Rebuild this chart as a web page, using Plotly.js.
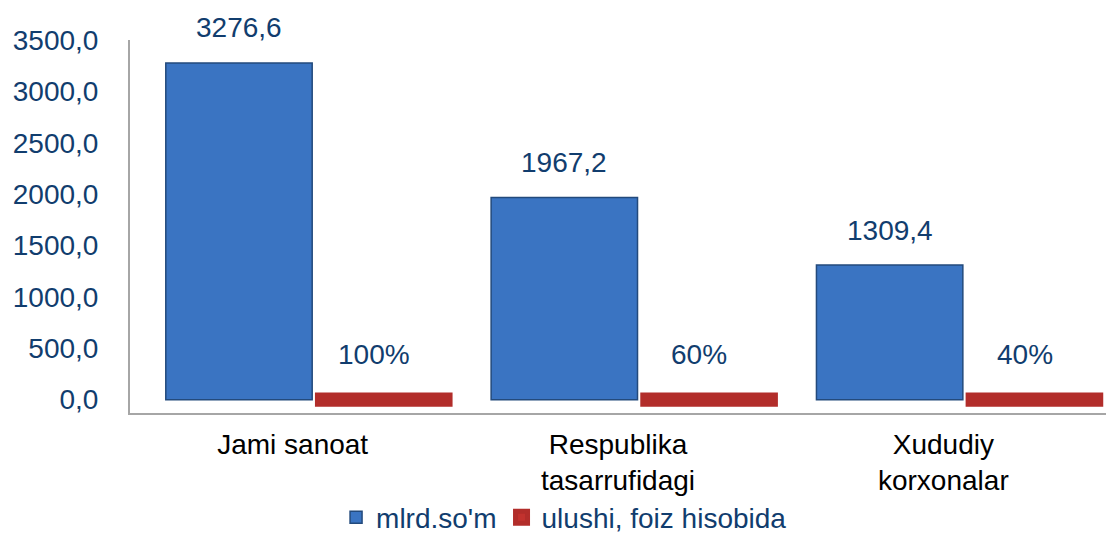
<!DOCTYPE html>
<html>
<head>
<meta charset="utf-8">
<script src="https://cdn.plot.ly/plotly-3.0.1.min.js"></script>
<style>html,body{margin:0;padding:0;background:#fff;}#chart{width:1106px;height:537px;}</style>
</head>
<body>
<div id="chart"></div>
<script>
const categories = ["Jami sanoat", "Respublika<br>tasarrufidagi", "Xududiy<br>korxonalar"];
const seriesNames = ["mlrd.so'm", "ulushi, foiz hisobida"];
const mlrdValues = [3276.6, 1967.2, 1309.4];
const shareValues = [1.00, 0.60, 0.40];
const yTickValues = [0, 500, 1000, 1500, 2000, 2500, 3000, 3500];

const navy = "#113d6e";
const fontFam = "Liberation Sans, Arial, sans-serif";

const blueOffset = -0.39, blueWidth = 0.45;
const redOffset = 0.09, redWidth = 0.38;

const fmtComma = v => v.toFixed(1).replace(".", ",");
const fmtPct = v => Math.round(v * 100) + "%";

const traces = [
  {
    type: "bar",
    name: seriesNames[0],
    x: categories,
    y: mlrdValues,
    offset: blueOffset,
    width: blueWidth,
    marker: {color: "#3a74c2", line: {color: "#234a7c", width: 1.5}}
  },
  {
    type: "bar",
    name: seriesNames[1],
    x: categories,
    y: shareValues,
    offset: redOffset,
    width: redWidth,
    marker: {color: "#c2322e", line: {color: "#b22d2a", width: 14}}
  }
];

const annotations = [];
categories.forEach((c, i) => {
  annotations.push({
    x: i + blueOffset + blueWidth / 2, y: mlrdValues[i], xref: "x", yref: "y",
    text: fmtComma(mlrdValues[i]), showarrow: false, yanchor: "middle", yshift: 35,
    font: {family: fontFam, size: 28, color: navy}
  });
  annotations.push({
    x: i + redOffset + redWidth / 2 - 0.03, y: shareValues[i], xref: "x", yref: "y",
    text: fmtPct(shareValues[i]), showarrow: false, yanchor: "middle", yshift: 45,
    font: {family: fontFam, size: 28, color: navy}
  });
});

const layout = {
  width: 1106,
  height: 537,
  separators: ",.",
  barmode: "group",
  margin: {l: 130, r: 0, t: 40, b: 124},
  paper_bgcolor: "#ffffff",
  plot_bgcolor: "#ffffff",
  font: {family: fontFam, size: 28, color: navy},
  showlegend: true,
  hovermode: false,
  annotations: annotations,
  xaxis: {
    type: "category",
    showline: true,
    linecolor: "#a6a6a6",
    linewidth: 2,
    ticks: "",
    ticklabelstandoff: 5,
    tickfont: {family: fontFam, size: 28, color: "#000000"},
    showgrid: false,
    zeroline: false
  },
  yaxis: {
    range: [-130, 3500],
    tickvals: yTickValues,
    tickformat: ".1f",
    showline: true,
    linecolor: "#a6a6a6",
    linewidth: 2,
    ticks: "",
    ticklabelstandoff: 24,
    tickfont: {family: fontFam, size: 28, color: navy},
    showgrid: false,
    zeroline: false
  },
  legend: {
    orientation: "h",
    xref: "container",
    yref: "container",
    x: 0.51,
    xanchor: "center",
    y: 0.036,
    yanchor: "middle",
    bgcolor: "rgba(0,0,0,0)",
    font: {family: fontFam, size: 28, color: navy},
    itemwidth: 30,
    tracegroupgap: 0
  }
};

Plotly.newPlot("chart", traces, layout, {displayModeBar: false, staticPlot: true});
</script>
</body>
</html>
